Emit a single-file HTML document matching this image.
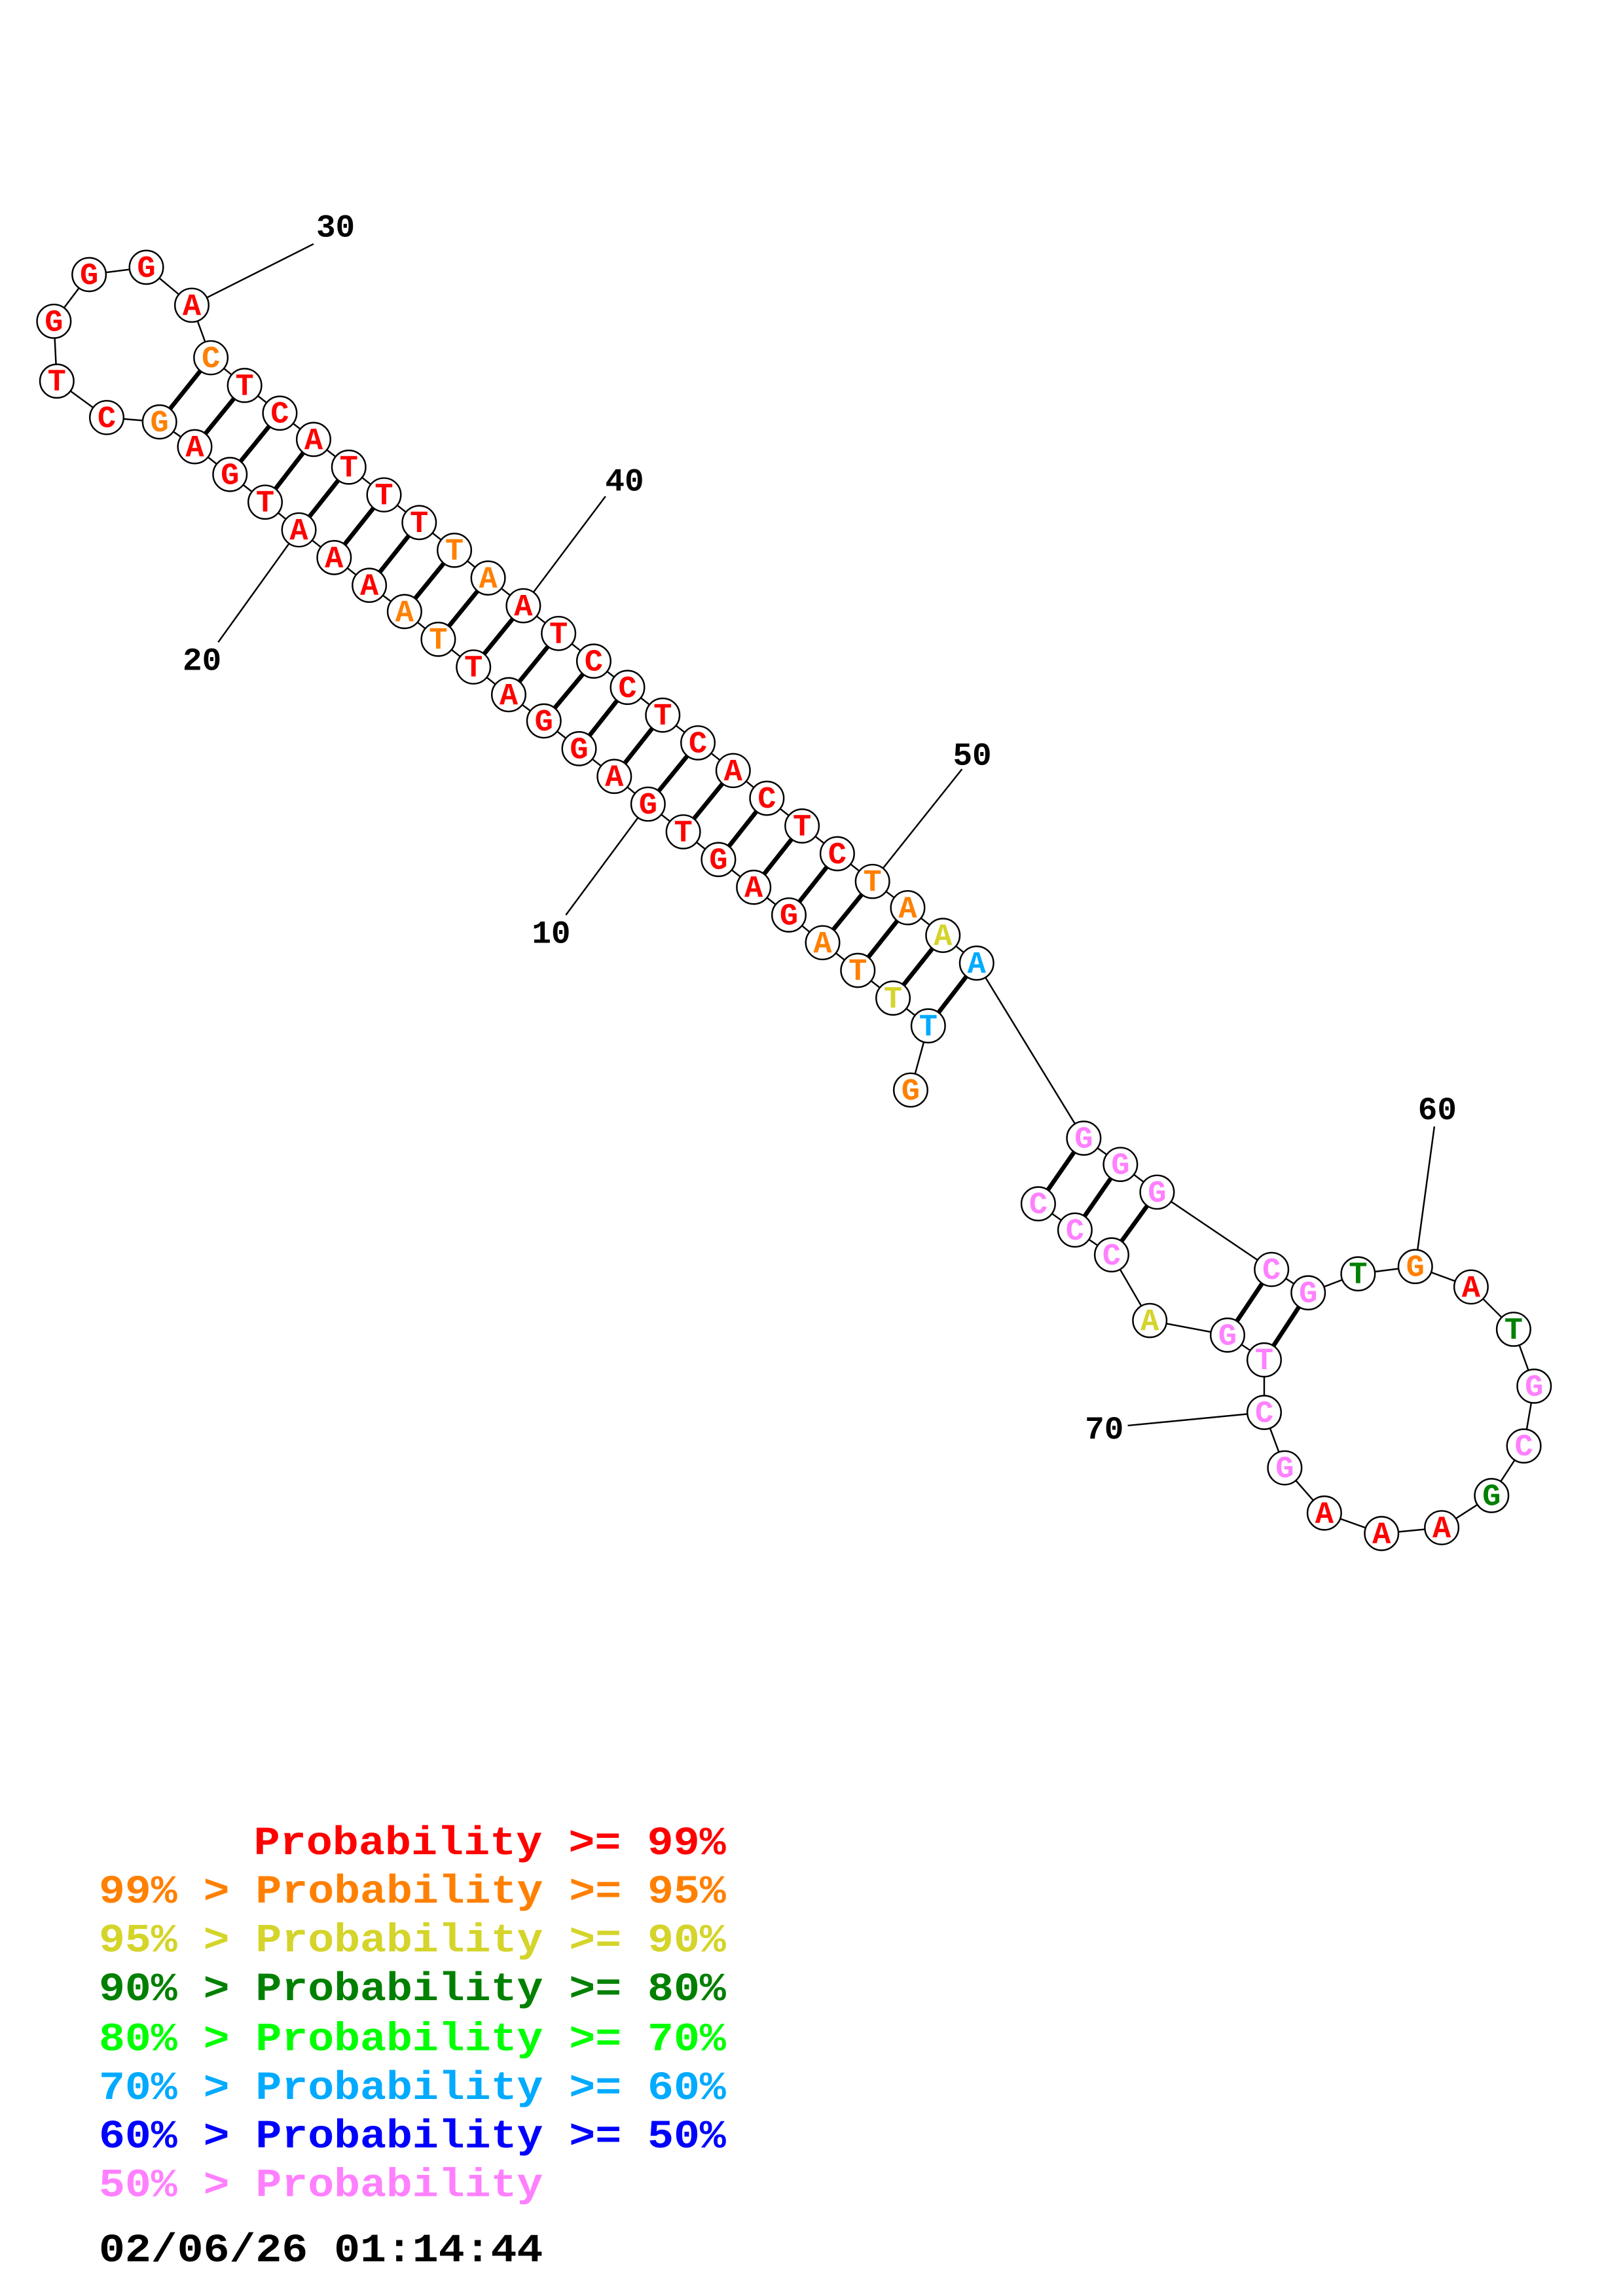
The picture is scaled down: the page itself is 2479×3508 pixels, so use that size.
<!DOCTYPE html>
<html><head><meta charset="utf-8"><style>
html,body{margin:0;padding:0;background:#fff;}
svg{display:block}
.n{font-family:"Liberation Mono",monospace;font-weight:bold;font-size:21px;text-anchor:middle}
.l{font-family:"Liberation Mono",monospace;font-weight:bold;font-size:22px;text-anchor:middle;fill:#000}
.g{font-family:"Liberation Mono",monospace;font-weight:bold;font-size:27px}
.r{fill:#ff0000}.o{fill:#ff8000}.y{fill:#d4d42a}.d{fill:#008000}.c{fill:#00aaff}.p{fill:#ff80ff}.lg{fill:#00ff00}.b{fill:#0000ff}.k{fill:#000}
</style></head><body>
<svg width="2479" height="3508" viewBox="0 0 2479 3508" xmlns="http://www.w3.org/2000/svg">
<rect width="2479" height="3508" fill="#fff"/>
<g transform="scale(2.2536)">
<g transform="matrix(0.9943,0,0,0.989,0.74,2.2)">
<g stroke="#000" stroke-width="1.1" fill="none">
<line x1="213" y1="165" x2="130" y2="207"/>
<line x1="412" y1="338" x2="356" y2="413"/>
<line x1="148" y1="438" x2="203" y2="361"/>
<line x1="655" y1="525" x2="594" y2="602"/>
<line x1="385" y1="625" x2="441" y2="549"/>
<line x1="977" y1="770" x2="964" y2="866"/>
<line x1="768" y1="975" x2="861" y2="966"/>
</g>
<polyline fill="none" stroke="#000" stroke-width="1.1" points="620,745 632,701 608,682 584,663 560,644 537,625 513,606 489,587 465,568 441,549 418,530 394,511 370,492 346,474 322,455 298,436 275,417 251,399 227,380 203,361 180,342 156,323 132,304 108,287 72,284 38,259 36,218 60,186 99,181 130,207 143,243 166,262 190,281 213,299 237,318 261,337 285,356 309,375 332,394 356,413 380,432 404,451 427,469 451,488 475,507 499,526 522,545 546,564 570,583 594,602 618,620 642,639 665,658 738,778 763,796 788,815 866,868 891,884 925,871 964,866 1002,880 1031,909 1045,948 1038,989 1016,1023 982,1045 941,1049 902,1035 875,1004 861,966 861,930 836,913 783,903 757,858 732,841 707,823"/>
<g stroke="#000" stroke-width="3">
<line x1="632" y1="701" x2="665" y2="658"/>
<line x1="608" y1="682" x2="642" y2="639"/>
<line x1="584" y1="663" x2="618" y2="620"/>
<line x1="560" y1="644" x2="594" y2="602"/>
<line x1="537" y1="625" x2="570" y2="583"/>
<line x1="513" y1="606" x2="546" y2="564"/>
<line x1="489" y1="587" x2="522" y2="545"/>
<line x1="465" y1="568" x2="499" y2="526"/>
<line x1="441" y1="549" x2="475" y2="507"/>
<line x1="418" y1="530" x2="451" y2="488"/>
<line x1="394" y1="511" x2="427" y2="469"/>
<line x1="370" y1="492" x2="404" y2="451"/>
<line x1="346" y1="474" x2="380" y2="432"/>
<line x1="322" y1="455" x2="356" y2="413"/>
<line x1="298" y1="436" x2="332" y2="394"/>
<line x1="275" y1="417" x2="309" y2="375"/>
<line x1="251" y1="399" x2="285" y2="356"/>
<line x1="227" y1="380" x2="261" y2="337"/>
<line x1="203" y1="361" x2="237" y2="318"/>
<line x1="180" y1="342" x2="213" y2="299"/>
<line x1="156" y1="323" x2="190" y2="281"/>
<line x1="132" y1="304" x2="166" y2="262"/>
<line x1="108" y1="287" x2="143" y2="243"/>
<line x1="738" y1="778" x2="707" y2="823"/>
<line x1="763" y1="796" x2="732" y2="841"/>
<line x1="788" y1="815" x2="757" y2="858"/>
<line x1="866" y1="868" x2="836" y2="913"/>
<line x1="891" y1="884" x2="861" y2="930"/>
</g>
<g fill="#fff" stroke="#000" stroke-width="1.1">
<circle cx="620" cy="745" r="11.5"/><circle cx="632" cy="701" r="11.5"/><circle cx="608" cy="682" r="11.5"/><circle cx="584" cy="663" r="11.5"/><circle cx="560" cy="644" r="11.5"/><circle cx="537" cy="625" r="11.5"/><circle cx="513" cy="606" r="11.5"/><circle cx="489" cy="587" r="11.5"/><circle cx="465" cy="568" r="11.5"/><circle cx="441" cy="549" r="11.5"/><circle cx="418" cy="530" r="11.5"/><circle cx="394" cy="511" r="11.5"/><circle cx="370" cy="492" r="11.5"/><circle cx="346" cy="474" r="11.5"/><circle cx="322" cy="455" r="11.5"/><circle cx="298" cy="436" r="11.5"/><circle cx="275" cy="417" r="11.5"/><circle cx="251" cy="399" r="11.5"/><circle cx="227" cy="380" r="11.5"/><circle cx="203" cy="361" r="11.5"/><circle cx="180" cy="342" r="11.5"/><circle cx="156" cy="323" r="11.5"/><circle cx="132" cy="304" r="11.5"/><circle cx="108" cy="287" r="11.5"/><circle cx="72" cy="284" r="11.5"/><circle cx="38" cy="259" r="11.5"/><circle cx="36" cy="218" r="11.5"/><circle cx="60" cy="186" r="11.5"/><circle cx="99" cy="181" r="11.5"/><circle cx="130" cy="207" r="11.5"/><circle cx="143" cy="243" r="11.5"/><circle cx="166" cy="262" r="11.5"/><circle cx="190" cy="281" r="11.5"/><circle cx="213" cy="299" r="11.5"/><circle cx="237" cy="318" r="11.5"/><circle cx="261" cy="337" r="11.5"/><circle cx="285" cy="356" r="11.5"/><circle cx="309" cy="375" r="11.5"/><circle cx="332" cy="394" r="11.5"/><circle cx="356" cy="413" r="11.5"/><circle cx="380" cy="432" r="11.5"/><circle cx="404" cy="451" r="11.5"/><circle cx="427" cy="469" r="11.5"/><circle cx="451" cy="488" r="11.5"/><circle cx="475" cy="507" r="11.5"/><circle cx="499" cy="526" r="11.5"/><circle cx="522" cy="545" r="11.5"/><circle cx="546" cy="564" r="11.5"/><circle cx="570" cy="583" r="11.5"/><circle cx="594" cy="602" r="11.5"/><circle cx="618" cy="620" r="11.5"/><circle cx="642" cy="639" r="11.5"/><circle cx="665" cy="658" r="11.5"/><circle cx="738" cy="778" r="11.5"/><circle cx="763" cy="796" r="11.5"/><circle cx="788" cy="815" r="11.5"/><circle cx="866" cy="868" r="11.5"/><circle cx="891" cy="884" r="11.5"/><circle cx="925" cy="871" r="11.5"/><circle cx="964" cy="866" r="11.5"/><circle cx="1002" cy="880" r="11.5"/><circle cx="1031" cy="909" r="11.5"/><circle cx="1045" cy="948" r="11.5"/><circle cx="1038" cy="989" r="11.5"/><circle cx="1016" cy="1023" r="11.5"/><circle cx="982" cy="1045" r="11.5"/><circle cx="941" cy="1049" r="11.5"/><circle cx="902" cy="1035" r="11.5"/><circle cx="875" cy="1004" r="11.5"/><circle cx="861" cy="966" r="11.5"/><circle cx="861" cy="930" r="11.5"/><circle cx="836" cy="913" r="11.5"/><circle cx="783" cy="903" r="11.5"/><circle cx="757" cy="858" r="11.5"/><circle cx="732" cy="841" r="11.5"/><circle cx="707" cy="823" r="11.5"/>
</g>
<g class="n" transform="translate(0,6.5)">
<text x="620" y="745" class="o">G</text><text x="632" y="701" class="c">T</text><text x="608" y="682" class="y">T</text><text x="584" y="663" class="o">T</text><text x="560" y="644" class="o">A</text><text x="537" y="625" class="r">G</text><text x="513" y="606" class="r">A</text><text x="489" y="587" class="r">G</text><text x="465" y="568" class="r">T</text><text x="441" y="549" class="r">G</text><text x="418" y="530" class="r">A</text><text x="394" y="511" class="r">G</text><text x="370" y="492" class="r">G</text><text x="346" y="474" class="r">A</text><text x="322" y="455" class="r">T</text><text x="298" y="436" class="o">T</text><text x="275" y="417" class="o">A</text><text x="251" y="399" class="r">A</text><text x="227" y="380" class="r">A</text><text x="203" y="361" class="r">A</text><text x="180" y="342" class="r">T</text><text x="156" y="323" class="r">G</text><text x="132" y="304" class="r">A</text><text x="108" y="287" class="o">G</text><text x="72" y="284" class="r">C</text><text x="38" y="259" class="r">T</text><text x="36" y="218" class="r">G</text><text x="60" y="186" class="r">G</text><text x="99" y="181" class="r">G</text><text x="130" y="207" class="r">A</text><text x="143" y="243" class="o">C</text><text x="166" y="262" class="r">T</text><text x="190" y="281" class="r">C</text><text x="213" y="299" class="r">A</text><text x="237" y="318" class="r">T</text><text x="261" y="337" class="r">T</text><text x="285" y="356" class="r">T</text><text x="309" y="375" class="o">T</text><text x="332" y="394" class="o">A</text><text x="356" y="413" class="r">A</text><text x="380" y="432" class="r">T</text><text x="404" y="451" class="r">C</text><text x="427" y="469" class="r">C</text><text x="451" y="488" class="r">T</text><text x="475" y="507" class="r">C</text><text x="499" y="526" class="r">A</text><text x="522" y="545" class="r">C</text><text x="546" y="564" class="r">T</text><text x="570" y="583" class="r">C</text><text x="594" y="602" class="o">T</text><text x="618" y="620" class="o">A</text><text x="642" y="639" class="y">A</text><text x="665" y="658" class="c">A</text><text x="738" y="778" class="p">G</text><text x="763" y="796" class="p">G</text><text x="788" y="815" class="p">G</text><text x="866" y="868" class="p">C</text><text x="891" y="884" class="p">G</text><text x="925" y="871" class="d">T</text><text x="964" y="866" class="o">G</text><text x="1002" y="880" class="r">A</text><text x="1031" y="909" class="d">T</text><text x="1045" y="948" class="p">G</text><text x="1038" y="989" class="p">C</text><text x="1016" y="1023" class="d">G</text><text x="982" y="1045" class="r">A</text><text x="941" y="1049" class="r">A</text><text x="902" y="1035" class="r">A</text><text x="875" y="1004" class="p">G</text><text x="861" y="966" class="p">C</text><text x="861" y="930" class="p">T</text><text x="836" y="913" class="p">G</text><text x="783" y="903" class="y">A</text><text x="757" y="858" class="p">C</text><text x="732" y="841" class="p">C</text><text x="707" y="823" class="p">C</text>
</g>
<g class="l">
<text x="228" y="160">30</text>
<text x="425" y="334">40</text>
<text x="137" y="457">20</text>
<text x="662" y="522">50</text>
<text x="375" y="644">10</text>
<text x="979" y="765">60</text>
<text x="752" y="984">70</text>
</g>
</g>
<g class="g">
<text x="172" y="1257" class="r" textLength="320" lengthAdjust="spacingAndGlyphs">Probability &gt;= 99%</text>
<text x="67" y="1290" class="o" textLength="425" lengthAdjust="spacingAndGlyphs">99% &gt; Probability &gt;= 95%</text>
<text x="67" y="1323" class="y" textLength="425" lengthAdjust="spacingAndGlyphs">95% &gt; Probability &gt;= 90%</text>
<text x="67" y="1356" class="d" textLength="425" lengthAdjust="spacingAndGlyphs">90% &gt; Probability &gt;= 80%</text>
<text x="67" y="1390" class="lg" textLength="425" lengthAdjust="spacingAndGlyphs">80% &gt; Probability &gt;= 70%</text>
<text x="67" y="1423" class="c" textLength="425" lengthAdjust="spacingAndGlyphs">70% &gt; Probability &gt;= 60%</text>
<text x="67" y="1456" class="b" textLength="425" lengthAdjust="spacingAndGlyphs">60% &gt; Probability &gt;= 50%</text>
<text x="67" y="1489" class="p" textLength="301" lengthAdjust="spacingAndGlyphs">50% &gt; Probability</text>
<text x="67" y="1533" class="k" textLength="301" lengthAdjust="spacingAndGlyphs">02/06/26 01:14:44</text>
</g>
</g>
</svg>
</body></html>
